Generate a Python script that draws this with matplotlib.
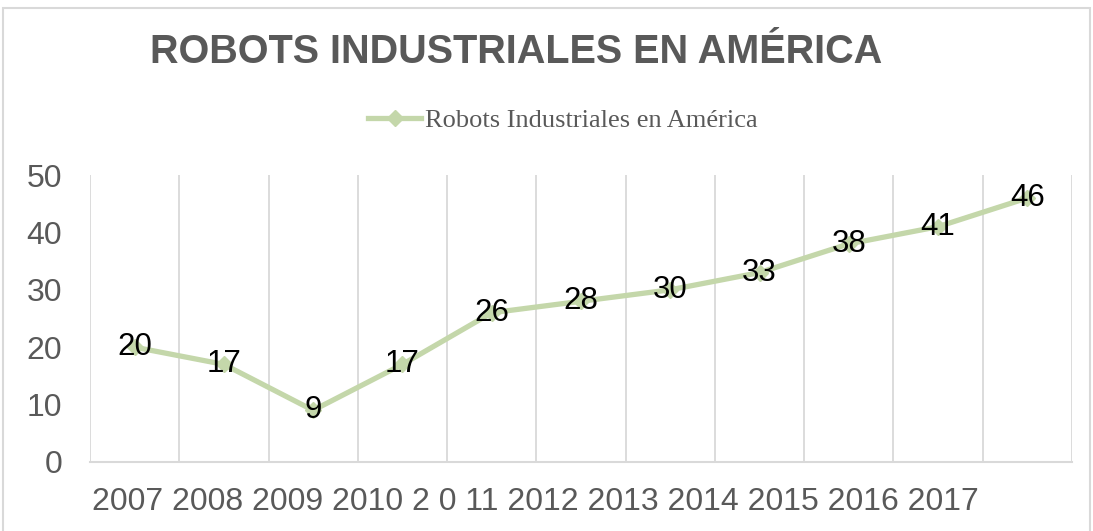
import matplotlib.pyplot as plt
from matplotlib.patches import Rectangle

# datos
years = ['2007', '2008', '2009', '2010', '2 0 11', '2012', '2013', '2014', '2015', '2016', '2017']
robots = [20, 17, 9, 17, 26, 28, 30, 33, 38, 41, 46]
serie = 'Robots Industriales en América'
titulo = 'ROBOTS INDUSTRIALES EN AMÉRICA'

verde = '#c4d7aa'
gris = '#595959'
rejilla = '#d9d9d9'

fig = plt.figure(figsize=(10.93, 5.31), dpi=100)
ax = fig.add_axes([0.0823, 0.13, 0.8985, 0.5404])

xs = [i + 0.5 for i in range(len(robots))]
ax.plot(xs, robots, '-', color=verde, lw=3.8, marker='D', ms=8, label=serie)
for x, v in zip(xs, robots):
    ax.text(x, v, str(v), ha='center', va='center', fontsize=22.5,
            family='Liberation Sans', color='black')

ax.set_xlim(0, len(robots))
ax.set_ylim(0, 50)
ax.set_yticks(range(0, 51, 10))
ax.set_xticks(range(len(robots) + 1))
ax.set_xticklabels([])
ax.tick_params(axis='x', length=0)
ax.tick_params(axis='y', length=0, pad=20, labelsize=23, labelcolor=gris)
for lab in ax.get_yticklabels():
    lab.set_family('Liberation Sans')
ax.grid(axis='x', color=rejilla, lw=1.3)
for s in ['top', 'right', 'left']:
    ax.spines[s].set_visible(False)
ax.spines['bottom'].set_color(rejilla)
ax.spines['bottom'].set_linewidth(1.5)

# etiquetas del eje x en una sola linea, como en el original
fig.text(92 / 1093, 0.0546, ' '.join(years), ha='left', va='center',
         fontsize=23, family='Liberation Sans', color=gris)

fig.text(0.472, 0.902, titulo, ha='center', va='center', fontsize=28.5,
         fontweight='bold', family='Liberation Sans', color=gris)

leg = fig.legend(loc='center', bbox_to_anchor=(0.515, 0.774), frameon=False,
                 prop={'family': 'Liberation Serif', 'size': 19},
                 handlelength=2.0, handletextpad=0.15, labelcolor=gris)

# borde exterior del grafico
fig.patches.append(Rectangle((3 / 1093, -0.01), 1087 / 1093, 1.01 - 8 / 531,
                             transform=fig.transFigure, fill=False,
                             edgecolor=rejilla, lw=1.5))

fig.savefig('out.png', dpi=100)
